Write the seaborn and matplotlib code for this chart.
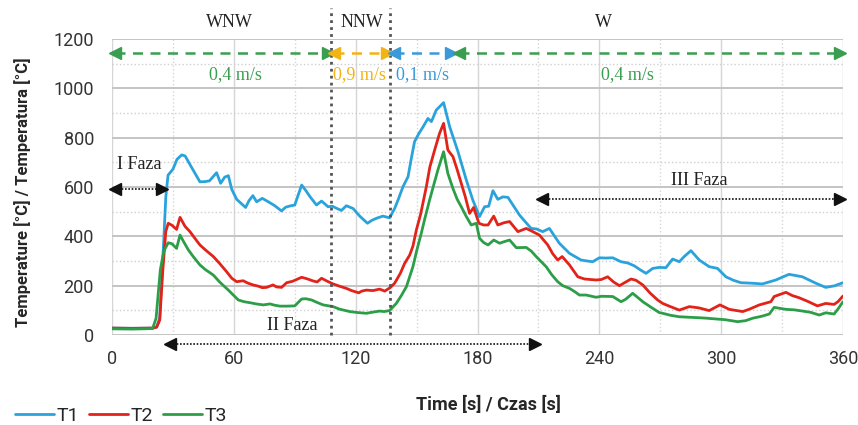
import matplotlib
matplotlib.use("Agg")
import matplotlib.pyplot as plt
import pandas as pd
import seaborn as sns

# sensor readings
t1_time = [0, 10, 20, 22, 23.5, 25, 26.5, 27.6, 30, 32, 34.3, 36, 40, 43.3, 46, 48, 51.5, 53.5,
           55.5, 57.3, 59, 61.4, 63, 65.8, 67.5, 69.4, 71.2, 74, 77, 80, 83.5, 85.5, 87.6, 90,
           93.4, 95.5, 97.5, 100.7, 103.2, 106.4, 108.5, 111.3, 113, 115.4, 118.7, 122, 125.8,
           128, 130.2, 133.4, 136.7, 139.2, 141, 143.3, 145.8, 147.5, 149, 151, 153.2, 155.6,
           157.3, 159.7, 163.3, 166.3, 170.4, 174.5, 177.7, 181, 183.5, 185.5, 187.6, 190,
           192.5, 195, 200.7, 206.4, 209, 212.1, 215.4, 220.3, 225.3, 231, 234, 236.7, 240,
           243, 246.6, 250.7, 254, 257.3, 260, 263, 266.3, 269.5, 272.8, 276.1, 279.4, 281.8,
           285.1, 289.2, 294.1, 298.2, 302.3, 306, 309.7, 315, 320.3, 326.9, 333.4, 340,
           346.6, 351.5, 355.6, 360]
t1_temp = [28, 27, 28, 32, 70, 300, 560, 648, 672, 712, 730, 726, 668, 621, 622, 625, 658, 615,
           640, 646, 590, 550, 538, 517, 545, 565, 540, 554, 540, 525, 503, 518, 523, 527,
           608, 585, 561, 527, 543, 520, 522, 511, 505, 524, 513, 482, 453,
           465, 473, 482, 475, 513, 550, 601, 642, 720, 784, 815, 844, 878,
           865, 912, 942, 844, 743, 628, 547, 480, 520, 522, 585, 550,
           560, 558, 486, 432, 430, 419, 432, 372, 331, 304, 300, 297, 313,
           312, 313, 297, 292, 280, 265, 250, 270, 274, 273, 308, 297, 318,
           342, 304, 277, 270, 236, 222, 212, 210, 207, 223, 246, 236,
           210, 193, 199, 212]

t2_time = [0, 10, 20, 22, 23.5, 25, 26.5, 27.7, 29.5, 31.8, 33.5, 36, 38.4, 41, 43.3, 46, 49.9,
           53, 56.4, 59, 61.4, 64.6, 67, 69.5, 72, 74, 76.1, 79.3, 81, 83.5, 86, 89, 93.4, 96,
           99.1, 101, 103.2, 106, 108.9, 112, 115.4, 118, 121.5, 123, 125.3, 128.5, 131.8,
           134.3, 137, 139.2, 142, 144.1, 146.6, 148.2, 149.9, 152, 154.8, 156.5, 158.9, 161.3,
           163.3, 165.4, 167.9, 170, 172, 174, 176.1, 178.1, 180.7, 183, 185.2, 188, 190, 193,
           195.8, 199.9, 204, 207, 210.5, 214.6, 217, 219.5, 221.7, 225.3, 229.4, 232.7, 238.4,
           241, 244.1, 247, 249.9, 252, 255.6, 258, 261.4, 265, 268.7, 271.2, 275, 279.4, 284.3,
           289, 294.1, 299.4, 304, 310.6, 314, 318.8, 324.5, 326.1, 331.9, 335, 338.4, 343,
           347.4, 351.5, 355.6, 357.5, 360]
t2_temp = [28, 27, 28, 32, 60, 260, 420, 453, 445, 428, 477, 440, 419, 390, 365, 345, 318,
           290, 257, 230, 216, 220, 210, 203, 198, 192, 193, 203, 195, 193, 212, 218, 234, 228,
           219, 215, 230, 218, 207, 198, 189, 180, 171, 178, 182, 180, 186,
           178, 192, 210, 250, 290, 324, 360, 426, 490, 601, 680, 750, 817,
           858, 750, 723, 670, 615, 560, 493, 517, 453, 446, 446, 482, 446, 455,
           460, 419, 432, 420, 405, 365, 330, 304, 318, 284, 236, 227, 223,
           225, 236, 215, 200, 210, 227, 222, 203, 170, 142, 128, 115, 101, 115,
           110, 99, 122, 104, 95, 105, 122, 135, 156, 173, 160, 151, 135,
           118, 128, 124, 135, 158]

t3_time = [0, 10, 20, 21.7, 23.8, 25.5, 27.7, 29.5, 31.8, 33.5, 35.5, 37.6, 40, 43.3, 46, 49.9,
           53, 57.3, 60, 62.2, 65, 67.9, 71, 74.5, 77.8, 80, 82.7, 86, 90, 93.4, 95.5, 98.3,
           101, 104, 108.9, 112, 117.1, 121, 125.3, 128, 131.8, 134, 136.7, 140, 142.5, 145,
           148.2, 150, 152.3, 154, 156.4, 158.5, 160.5, 163.3, 165.4, 167.9, 170, 172, 174.5,
           176.9, 179.4, 181, 183, 185.2, 188, 190.9, 193, 195.8, 199.1, 204, 206.5, 208.9,
           213.8, 216.5, 219.5, 222, 225.3, 228, 230.2, 233.5, 238.4, 241, 246.6, 250.7, 253,
           256.4, 258.5, 261.4, 265, 269.5, 271.2, 275, 279.4, 284, 289.2, 293, 297.4, 302,
           308.1, 312, 315.5, 320, 323.7, 326.1, 329, 331.9, 336, 340.1, 344, 348.3, 351.5,
           355.6, 357.5, 360]
t3_temp = [25, 24, 26, 68, 264, 340, 374, 370, 351, 405, 375, 345, 318, 284, 265, 243,
           215, 182, 160, 142, 135, 131, 126, 122, 126, 121, 117, 117, 118, 146, 147, 142,
           132, 122, 115, 105, 95, 91, 88, 92, 97, 95, 99, 128, 160, 196,
           277, 340, 412, 470, 547, 610, 669, 743, 655, 594, 550, 520, 480,
           446, 453, 392, 375, 365, 385, 372, 378, 385, 354, 355, 340, 318,
           277, 245, 216, 200, 189, 175, 162, 162, 153, 157, 156, 135, 145,
           169, 155, 135, 115, 91, 88, 80, 74, 72, 70, 68, 65, 62,
           54, 58, 68, 76, 85, 112, 108, 104, 102, 97, 92, 81, 90,
           85, 105, 135]

sensors = ["T1", "T2", "T3"]
colors = ["#2aa3dc", "#e2231a", "#2c9e48"]

# wind periods
wind_dirs = ["WNW", "NNW", "W"]
wind_dir_x = [58, 123, 242]
wind_bounds = [(0, 108), (108, 137), (137.5, 168.5), (169.5, 360)]
wind_speeds = ["0,4 m/s", "0,9 m/s", "0,1 m/s", "0,4 m/s"]
wind_speed_x = [61, 122, 153, 254]
wind_colors = ["#3a9e50", "#f2b315", "#3a9ad9", "#3a9e50"]

# phases
phase_names = ["I Faza", "II Faza", "III Faza"]
phase_bounds = [(0, 26), (27, 210), (210.5, 360)]
phase_arrow_y = [592, -38, 550]
phase_text_xy = [(13.5, 690), (89, 38), (289, 628)]

divider_x = [108, 137]

df = pd.concat([
    pd.DataFrame({"time": t1_time, "temp": t1_temp, "sensor": "T1"}),
    pd.DataFrame({"time": t2_time, "temp": t2_temp, "sensor": "T2"}),
    pd.DataFrame({"time": t3_time, "temp": t3_temp, "sensor": "T3"}),
])

sns.set_style("white")
plt.rcParams["font.family"] = ["Roboto", "DejaVu Sans"]

fig = plt.figure(figsize=(8.58, 4.25), dpi=100)
ax = fig.add_axes([112 / 858, 1 - 335 / 425, 731 / 858, 296 / 425])

sns.lineplot(data=df, x="time", y="temp", hue="sensor", hue_order=sensors,
             palette=colors, estimator=None, sort=True, lw=2, ax=ax)

ax.set_xlim(0, 360)
ax.set_ylim(0, 1200)
ax.set_xticks(range(0, 361, 60))
ax.set_xticks(range(30, 361, 60), minor=True)
ax.set_yticks(range(0, 1201, 200))
ax.set_yticks(range(100, 1200, 200), minor=True)
ax.xaxis.grid(True, which="major", color="#d6d6d6", lw=1.0)
ax.xaxis.grid(True, which="minor", color="#d6d6d6", lw=1.0, ls=":")
ax.yaxis.grid(True, which="major", color="#c4c4c4", lw=1.4)
ax.yaxis.grid(True, which="minor", color="#d0d0d0", lw=1.0, ls=":")
ax.set_axisbelow(True)
for s in ax.spines.values():
    s.set_visible(False)
ax.tick_params(axis="x", which="both", length=0, pad=11, labelsize=13, labelcolor="#333333")
ax.tick_params(axis="y", which="both", length=5, width=1, color="#c8c8c8", pad=8,
               labelsize=13, labelcolor="#333333")

ax.set_ylabel("Temperature [°C] / Temperatura [°C]", fontsize=12, fontweight="bold")
ax.set_xlabel("Time [s] / Czas [s]", fontsize=13, fontweight="bold")
ax.yaxis.set_label_coords(-0.111, 0.483)
ax.xaxis.set_label_coords(0.515, -0.206)

serif = ["Liberation Serif", "DejaVu Serif"]

# dividers between wind directions
for x in divider_x:
    ax.plot([x, x], [0, 1325], color="#555555", lw=2, ls=(0, (1, 1.5)), clip_on=False, zorder=3)

for name, x in zip(wind_dirs, wind_dir_x):
    ax.text(x, 1265, name, ha="center", va="center", fontsize=13, family=serif, color="#222222")


def double_arrow(x0, x1, y, color, ls, lw, ms):
    ax.plot([x0 + 1.5, x1 - 1.5], [y, y], color=color, ls=ls, lw=lw, clip_on=False, zorder=4)
    ax.plot([x0 + 1.5], [y], marker="<", color=color, ms=ms, clip_on=False, zorder=4)
    ax.plot([x1 - 1.5], [y], marker=">", color=color, ms=ms, clip_on=False, zorder=4)


for (x0, x1), label, lx, c in zip(wind_bounds, wind_speeds, wind_speed_x, wind_colors):
    double_arrow(x0, x1, 1143, c, (0, (4, 3)), 1.8, 8)
    ax.text(lx, 1054, label, ha="center", va="center", fontsize=13, family=serif, color=c)

for (x0, x1), y, name, (tx, ty) in zip(phase_bounds, phase_arrow_y, phase_names, phase_text_xy):
    double_arrow(x0, x1, y, "#111111", (0, (1, 1)), 1.2, 9)
    ax.text(tx, ty, name, ha="center", va="center", fontsize=13, family=serif, color="#222222")

handles, labels = ax.get_legend_handles_labels()
ax.legend_.remove()
fig.legend(handles, labels, loc="center left", bbox_to_anchor=(15 / 858, 1 - 416 / 425),
           ncol=3, frameon=False, fontsize=14, handlelength=2.0, handletextpad=0.15,
           columnspacing=0.5, borderpad=0, borderaxespad=0)

fig.savefig("out.png", dpi=100)
